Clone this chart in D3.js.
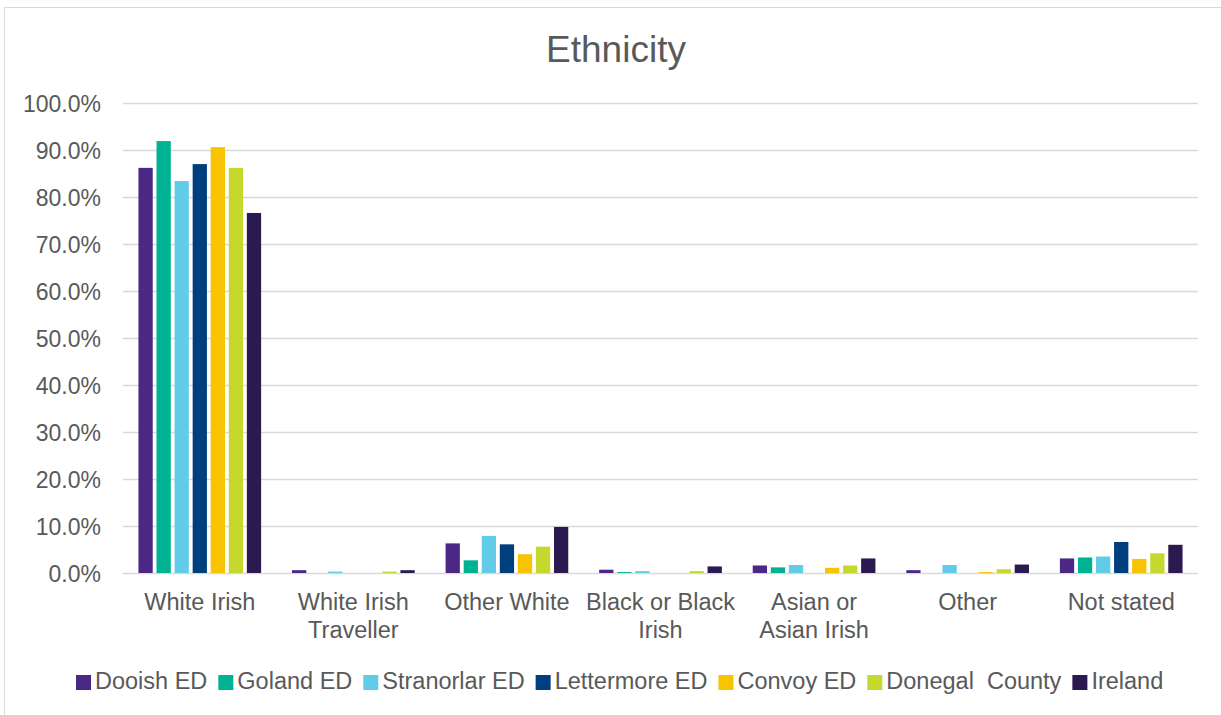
<!DOCTYPE html>
<html><head><meta charset="utf-8">
<script src="https://cdn.jsdelivr.net/npm/d3@7"></script>
<style>html,body{margin:0;padding:0;background:#fff;}svg{display:block;}</style>
</head><body>
<svg id="chart" width="1221" height="715"></svg>
<script>
const categories = [["White Irish"],["White Irish","Traveller"],["Other White"],["Black or Black","Irish"],["Asian or","Asian Irish"],["Other"],["Not stated"]];
const seriesNames = ["Dooish ED","Goland ED","Stranorlar ED","Lettermore ED","Convoy ED","Donegal  County","Ireland"];
const seriesColors = ["#4B2885","#00B294","#62CBE8","#003F7D","#F8C300","#C4D82E","#2B1A4F"];
const dooish     = [86.2, 0.6, 6.3, 0.7, 1.6, 0.6, 3.1];
const goland     = [91.9, 0.0, 2.7, 0.2, 1.2, 0.0, 3.3];
const stranorlar = [83.4, 0.3, 7.9, 0.4, 1.7, 1.7, 3.5];
const lettermore = [87.0, 0.0, 6.1, 0.0, 0.0, 0.0, 6.6];
const convoy     = [90.6, 0.0, 4.0, 0.0, 1.1, 0.2, 3.0];
const donegal    = [86.2, 0.3, 5.6, 0.4, 1.6, 0.8, 4.2];
const ireland    = [76.6, 0.6, 9.8, 1.4, 3.1, 1.8, 6.0];
const yTicks = [0,10,20,30,40,50,60,70,80,90,100];

const seriesValues = [dooish, goland, stranorlar, lettermore, convoy, donegal, ireland];
const svg = d3.select("#chart");
const font = "'Liberation Sans', Arial, sans-serif";
const textColor = "#595959";

// border
svg.append("rect").attr("x",4.5).attr("y",7.5).attr("width",1240).attr("height",740)
  .attr("fill","none").attr("stroke","#d9d9d9").attr("stroke-width",1);

// title
svg.append("text").attr("x",616).attr("y",62).attr("text-anchor","middle")
  .style("font-family",font).style("font-size","37px").attr("fill",textColor).text("Ethnicity");

const pLeft = 123, pRight = 1198, pTop = 103, pBottom = 573;
const catIdx = categories.map((c,i)=>i);
const x0 = d3.scaleBand().domain(catIdx).range([pLeft,pRight]).padding(0);
const x1 = d3.scaleBand().domain(seriesNames).range([15.45, x0.bandwidth()-15.45]).paddingInner(0.21).paddingOuter(0);
const y = d3.scaleLinear().domain([0,100]).range([pBottom, pTop]);

// gridlines
const yAxis = d3.axisLeft(y).tickValues(yTicks).tickSize(-(pRight-pLeft)).tickFormat(d=>d3.format(".1f")(d)+"%").tickPadding(22);
const gy = svg.append("g").attr("transform",`translate(${pLeft},0)`).call(yAxis);
gy.select(".domain").remove();
gy.selectAll(".tick line").attr("stroke","#d9d9d9").attr("stroke-width",1.5);
gy.selectAll(".tick text").style("font-family",font).style("font-size","23px").attr("fill",textColor).attr("dy","0.36em");

// bars
const groups = svg.append("g").selectAll("g").data(catIdx).join("g")
  .attr("transform",d=>`translate(${x0(d)},0)`);
groups.selectAll("rect").data(ci=>seriesNames.map((s,si)=>({s,si,v:seriesValues[si][ci]})))
  .join("rect")
  .attr("x",d=>x1(d.s)).attr("width",x1.bandwidth())
  .attr("y",d=>y(d.v)).attr("height",d=>y(0)-y(d.v))
  .attr("fill",d=>seriesColors[d.si]);

// category labels
const xAxis = d3.axisBottom(x0).tickSize(0).tickFormat(()=>"");
const gx = svg.append("g").attr("transform",`translate(0,${pBottom})`).call(xAxis);
gx.select(".domain").remove();
gx.selectAll(".tick").each(function(d){
  const t = d3.select(this).append("text").attr("text-anchor","middle")
    .style("font-family",font).style("font-size","23.5px").attr("fill",textColor);
  categories[d].forEach((line,li)=>{
    t.append("tspan").attr("x",0).attr("y",37+li*28).text(line);
  });
});

// legend
const legend = svg.append("g");
let lx = 76;
seriesNames.forEach((name,i)=>{
  legend.append("rect").attr("x",lx).attr("y",675).attr("width",15).attr("height",15).attr("fill",seriesColors[i]);
  const t = legend.append("text").attr("x",lx+19).attr("y",689)
    .style("font-family",font).style("font-size","23.5px").style("white-space","pre")
    .attr("fill",textColor).text(name);
  lx += 19 + t.node().getComputedTextLength() + 11;
});
</script>
</body></html>
